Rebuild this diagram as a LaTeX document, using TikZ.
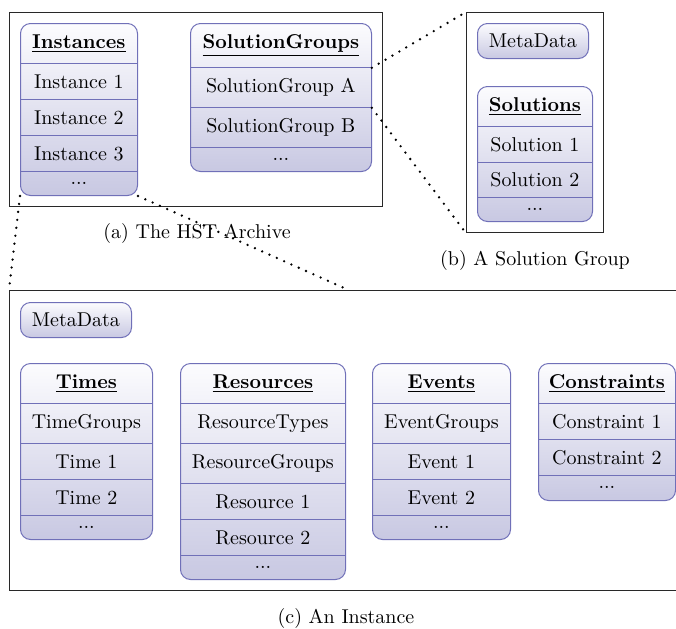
\documentclass[tikz,border=0pt]{standalone}
\definecolor{boxline}{RGB}{112,112,184}
\definecolor{boxtop}{RGB}{252,252,254}
\definecolor{boxbot}{RGB}{200,200,226}
\definecolor{frameline}{RGB}{40,40,40}
\newcommand\hdr[1]{\underline{\textbf{#1}}}
\begin{document}
\begin{tikzpicture}[x=0.5pt,y=-0.5pt,
  boxbg/.style 2 args={draw=boxline, line width=0.5pt, rounded corners=5pt,
    top color=boxtop, bottom color=boxbot, anchor=north west, inner sep=0pt,
    minimum width=#1*0.5pt, minimum height=#2*0.5pt},
  row/.style 2 args={anchor=north west, inner sep=0pt,
    minimum width=#1*0.5pt, minimum height=#2*0.5pt},
  sep/.style={draw=boxline, line width=0.45pt},
  frame/.style 2 args={draw=frameline, line width=0.6pt, anchor=north west,
    inner sep=0pt, minimum width=#1*0.5pt, minimum height=#2*0.5pt},
  zoomline/.style={line width=1.3pt, line cap=round, dash pattern=on 0pt off 4pt},
  caption/.style={inner sep=0pt}]
\useasboundingbox (0,0) rectangle (676,628);
\clip (0,0) rectangle (676,628);

% ---------- (a) the archive ----------
\node[frame={373}{194}] (fa) at (9,12) {};

\node[boxbg={117}{172}] (inst) at (20,23) {};
\node[row={117}{40}] (insth) at (20,23) {\hdr{Instances}};
\node[row={117}{36}] (inst1) at (20,63) {Instance 1};
\node[row={117}{36}] (inst2) at (20,99) {Instance 2};
\node[row={117}{36}] (inst3) at (20,135) {Instance 3};
\node[row={117}{24}] (instd) at (20,171) {...};
\foreach \r in {inst1,inst2,inst3,instd}
  \draw[sep] (\r.north west) -- (\r.north east);

\node[boxbg={181}{148}] (sg) at (190,23) {};
\node[row={181}{44}] (sgh) at (190,23) {\hdr{SolutionGroups}};
\node[row={181}{40}] (sga) at (190,67) {SolutionGroup A};
\node[row={181}{40}] (sgb) at (190,107) {SolutionGroup B};
\node[row={181}{24}] (sgd) at (190,147) {...};
\foreach \r in {sga,sgb,sgd}
  \draw[sep] (\r.north west) -- (\r.north east);

\node[caption] (capa) at (197,233) {(a) The HST Archive};

% ---------- (b) a solution group ----------
\node[frame={137}{220}] (fb) at (466,12) {};

\node[boxbg={111}{35}] (mdb) at (477,23) {};
\node[row={111}{35}] (mdbt) at (477,23) {MetaData};

\node[boxbg={115}{135}] (sol) at (477,86) {};
\node[row={115}{40}] (solh) at (477,86) {\hdr{Solutions}};
\node[row={115}{36}] (sol1) at (477,126) {Solution 1};
\node[row={115}{35}] (sol2) at (477,162) {Solution 2};
\node[row={115}{24}] (sold) at (477,197) {...};
\foreach \r in {sol1,sol2,sold}
  \draw[sep] (\r.north west) -- (\r.north east);

\node[caption] (capb) at (535,260) {(b) A Solution Group};

% ---------- (c) an instance ----------
\node[frame={678}{300}] (fc) at (9,290) {};

\node[boxbg={111}{35}] (mdc) at (20,302) {};
\node[row={111}{35}] (mdct) at (20,302) {MetaData};

\node[boxbg={132}{176}] (tim) at (20,363) {};
\node[row={132}{40}] (timh) at (20,363) {\hdr{Times}};
\node[row={132}{40}] (timg) at (20,403) {TimeGroups};
\node[row={132}{36}] (tim1) at (20,443) {Time 1};
\node[row={132}{36}] (tim2) at (20,479) {Time 2};
\node[row={132}{24}] (timd) at (20,515) {...};
\foreach \r in {timg,tim1,tim2,timd}
  \draw[sep] (\r.north west) -- (\r.north east);

\node[boxbg={165}{216}] (res) at (180,363) {};
\node[row={165}{40}] (resh) at (180,363) {\hdr{Resources}};
\node[row={165}{40}] (rest) at (180,403) {ResourceTypes};
\node[row={165}{40}] (resg) at (180,443) {ResourceGroups};
\node[row={165}{36}] (res1) at (180,483) {Resource 1};
\node[row={165}{36}] (res2) at (180,519) {Resource 2};
\node[row={165}{24}] (resd) at (180,555) {...};
\foreach \r in {rest,resg,res1,res2,resd}
  \draw[sep] (\r.north west) -- (\r.north east);

\node[boxbg={138}{176}] (ev) at (372,363) {};
\node[row={138}{40}] (evh) at (372,363) {\hdr{Events}};
\node[row={138}{40}] (evg) at (372,403) {EventGroups};
\node[row={138}{36}] (ev1) at (372,443) {Event 1};
\node[row={138}{36}] (ev2) at (372,479) {Event 2};
\node[row={138}{24}] (evd) at (372,515) {...};
\foreach \r in {evg,ev1,ev2,evd}
  \draw[sep] (\r.north west) -- (\r.north east);

\node[boxbg={137}{137}] (con) at (538,363) {};
\node[row={137}{40}] (conh) at (538,363) {\hdr{Constraints}};
\node[row={137}{36}] (con1) at (538,403) {Constraint 1};
\node[row={137}{36}] (con2) at (538,439) {Constraint 2};
\node[row={137}{25}] (cond) at (538,475) {...};
\foreach \r in {con1,con2,cond}
  \draw[sep] (\r.north west) -- (\r.north east);

\node[caption] (capc) at (346,618) {(c) An Instance};

% ---------- zoom lines ----------
\draw[zoomline] (sgh.south east) -- (fb.north west);
\draw[zoomline] (sga.south east) -- (fb.south west);
\draw[zoomline] (inst.south west) -- (fc.north west);
\draw[zoomline] (inst.south east) -- (fc.north);
\end{tikzpicture}
\end{document}
